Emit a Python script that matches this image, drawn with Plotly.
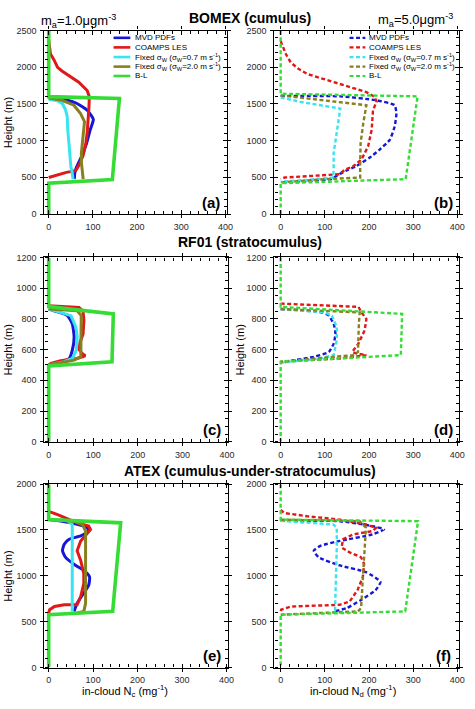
import plotly.graph_objects as go

# ---------------- data (in-cloud number concentration, mg^-1 ; height, m) ----------------
SERIES = ["MVD PDFs", "COAMPS LES", "Fixed σ<sub>W</sub> (σ<sub>W</sub>=0.7 m s<sup>-1</sup>)",
          "Fixed σ<sub>W</sub> (σ<sub>W</sub>=2.0 m s<sup>-1</sup>)", "B-L"]

# (a) BOMEX, m_a = 1.0
A_MVD_N = [0, 40, 63, 87, 101, 94, 85, 74, 63, 59, 58]
A_MVD_Z = [1580, 1555, 1510, 1415, 1290, 1150, 950, 780, 640, 560, 475]
A_LES_N = [0, 2, 4, 12, 20, 30, 45, 68, 87, 92, 91, 90, 87, 84, 78, 68, 61, 40, 15, 0]
A_LES_Z = [2370, 2300, 2180, 2100, 2000, 1950, 1885, 1796, 1684, 1600, 1450, 1326, 1100, 968, 800, 660, 590, 568, 525, 497]
A_F07_N = [0, 20, 31, 38, 42, 43, 46, 48, 50, 53, 55]
A_F07_Z = [1565, 1545, 1505, 1420, 1326, 1150, 950, 789, 650, 565, 475]
A_F20_N = [0, 30, 57, 72, 81, 79, 76, 74, 74, 76, 78]
A_F20_Z = [1580, 1550, 1483, 1371, 1259, 1102, 950, 833, 699, 560, 475]
A_BL_N = [0, 0, 160, 144, 0, 0]
A_BL_Z = [2500, 1600, 1575, 470, 420, 0]

# (b) BOMEX, m_a = 5.0
B_MVD_N = [0, 135, 217, 258, 262, 258, 247, 224, 201, 171, 147, 132, 113, 60, 0]
B_MVD_Z = [1610, 1604, 1550, 1483, 1371, 1192, 1012, 878, 766, 654, 587, 542, 475, 450, 430]
B_LES_N = [0, 12, 23, 41, 60, 97, 149, 194, 213, 217, 209, 206, 198, 183, 165, 147, 132, 61, 9, 0]
B_LES_Z = [2357, 2177, 2065, 1976, 1909, 1841, 1751, 1662, 1595, 1528, 1415, 1147, 923, 743, 654, 609, 542, 520, 497, 475]
B_F07_N = [0, 45, 135, 131, 124, 120, 120, 119, 61, 0]
B_F07_Z = [1590, 1528, 1438, 1281, 1057, 833, 609, 497, 466, 440]
B_F20_N = [0, 98, 194, 187, 181, 180, 180, 98, 0]
B_F20_Z = [1617, 1550, 1483, 1237, 968, 699, 497, 475, 430]
B_BL_N = [0, 0, 310, 283, 0, 0]
B_BL_Z = [2500, 1640, 1604, 475, 420, 0]

# (c) RF01, m_a = 1.0
C_MVD_N = [0, 20, 42, 53, 57, 53, 46, 27, 0]
C_MVD_Z = [864, 845, 821, 767, 681, 596, 542, 521, 500]
C_LES_N = [0, 68, 77, 79, 77, 70, 68, 75, 82, 64, 27, 5, 0]
C_LES_Z = [885, 874, 850, 790, 700, 645, 600, 575, 560, 542, 527, 510, 500]
C_F07_N = [0, 25, 50, 61, 64, 62, 53, 35, 0]
C_F07_Z = [864, 845, 821, 746, 681, 596, 542, 521, 500]
C_F20_N = [0, 64, 73, 73, 73, 72, 57, 20, 0]
C_F20_Z = [864, 853, 821, 746, 574, 553, 531, 510, 500]
C_BL_N = [0, 0, 145, 142, 0, 0]
C_BL_Z = [1200, 880, 832, 521, 493, 0]

# (d) RF01, m_a = 5.0
D_MVD_N = [0, 92, 109, 120, 124, 120, 109, 75, 24, 0]
D_MVD_Z = [864, 842, 821, 767, 703, 639, 585, 553, 527, 514]
D_LES_N = [0, 176, 183, 194, 190, 176, 162, 172, 194, 134, 60, 0]
D_LES_Z = [899, 878, 842, 799, 724, 639, 585, 574, 564, 542, 531, 521]
D_F07_N = [0, 100, 116, 127, 127, 120, 90, 24, 0]
D_F07_Z = [864, 842, 821, 746, 660, 564, 542, 521, 514]
D_F20_N = [0, 179, 177, 175, 175, 164, 75, 0]
D_F20_Z = [864, 842, 767, 660, 585, 564, 542, 521]
D_BL_N = [0, 0, 275, 272, 0, 0]
D_BL_Z = [1200, 878, 832, 564, 521, 0]

# (e) ATEX, m_a = 1.0
E_MVD_N = [0, 50, 87, 90, 72, 46, 35, 31, 38, 61, 79, 92, 90, 76, 64, 57]
E_MVD_Z = [1613, 1578, 1524, 1488, 1435, 1399, 1345, 1274, 1202, 1113, 1059, 987, 898, 791, 701, 612]
E_LES_N = [0, 20, 64, 90, 94, 72, 64, 72, 79, 79, 72, 64, 35, 13, 2, 0]
E_LES_Z = [1703, 1667, 1578, 1542, 1506, 1381, 1274, 1167, 1023, 916, 773, 684, 684, 665, 630, 594]
E_F07_N = [0, 42, 53, 53, 52, 52, 53]
E_F07_Z = [1613, 1603, 1560, 1309, 952, 701, 612]
E_F20_N = [0, 57, 76, 83, 83, 83, 79, 64]
E_F20_Z = [1613, 1596, 1560, 1488, 952, 701, 612, 594]
E_BL_N = [0, 0, 162, 144, 0, 0]
E_BL_Z = [2000, 1613, 1578, 612, 576, 0]

# (f) ATEX, m_a = 5.0
F_MVD_N = [0, 134, 208, 234, 208, 134, 90, 75, 86, 134, 193, 226, 215, 182, 149, 119]
F_MVD_Z = [1600, 1596, 1542, 1506, 1452, 1381, 1327, 1274, 1202, 1113, 1041, 934, 844, 737, 647, 612]
F_LES_N = [0, 8, 60, 134, 193, 216, 208, 164, 141, 138, 156, 182, 189, 186, 174, 156, 134, 23, 1, 0]
F_LES_Z = [1720, 1685, 1650, 1613, 1560, 1524, 1488, 1452, 1399, 1309, 1256, 1202, 1130, 987, 844, 719, 684, 665, 630, 594]
F_F07_N = [0, 119, 127, 127, 125, 123]
F_F07_Z = [1600, 1560, 1524, 1309, 952, 612]
F_F20_N = [0, 179, 193, 190, 186, 182, 175, 97, 0]
F_F20_Z = [1613, 1596, 1524, 1309, 952, 648, 612, 594, 576]
F_BL_N = [0, 0, 311, 282, 0, 0]
F_BL_Z = [2000, 1613, 1596, 612, 576, 0]

PANEL_DATA = {
    "a": [(A_MVD_N, A_MVD_Z), (A_LES_N, A_LES_Z), (A_F07_N, A_F07_Z), (A_F20_N, A_F20_Z), (A_BL_N, A_BL_Z)],
    "b": [(B_MVD_N, B_MVD_Z), (B_LES_N, B_LES_Z), (B_F07_N, B_F07_Z), (B_F20_N, B_F20_Z), (B_BL_N, B_BL_Z)],
    "c": [(C_MVD_N, C_MVD_Z), (C_LES_N, C_LES_Z), (C_F07_N, C_F07_Z), (C_F20_N, C_F20_Z), (C_BL_N, C_BL_Z)],
    "d": [(D_MVD_N, D_MVD_Z), (D_LES_N, D_LES_Z), (D_F07_N, D_F07_Z), (D_F20_N, D_F20_Z), (D_BL_N, D_BL_Z)],
    "e": [(E_MVD_N, E_MVD_Z), (E_LES_N, E_LES_Z), (E_F07_N, E_F07_Z), (E_F20_N, E_F20_Z), (E_BL_N, E_BL_Z)],
    "f": [(F_MVD_N, F_MVD_Z), (F_LES_N, F_LES_Z), (F_F07_N, F_F07_Z), (F_F20_N, F_F20_Z), (F_BL_N, F_BL_Z)],
}

X_TICKS = [0, 100, 200, 300, 400]
TITLES = ["BOMEX (cumulus)", "RF01 (stratocumulus)", "ATEX (cumulus-under-stratocumulus)"]
MASS_LABELS = ["m<sub>a</sub>=1.0μgm<sup>-3</sup>", "m<sub>a</sub>=5.0μgm<sup>-3</sup>"]

# ---------------- styling / layout ----------------
W, H = 475, 709
FONT = "Liberation Sans, Arial, Helvetica, sans-serif"
COLORS = ["#1616d8", "#e01818", "#38e4f0", "#86801f", "#36dc36"]

def fx(p):
    return p / W

def fy(p):
    return 1 - p / H

# panel key, x px [l, r], y px [top, bottom], y max, y major, y minor, x range, dashed
PANELS = [
    ("a", (45, 230), (26, 212), 2500, 500, 100, (-9.7, 403.7), False),
    ("b", (278, 465), (26, 212), 2500, 500, 100, (-14, 404), True),
    ("c", (45, 231), (256, 443), 1200, 200, 50, (-9.6, 402.5), False),
    ("d", (278, 465), (256, 443), 1200, 200, 50, (-14, 404), True),
    ("e", (45, 231), (486, 672), 2000, 500, 100, (-9.6, 403.7), False),
    ("f", (278, 465), (486, 672), 2000, 500, 100, (-14, 404), True),
]

fig = go.Figure()
layout = dict(width=W, height=H, margin=dict(l=0, r=0, t=0, b=0), autosize=False,
              paper_bgcolor="white", plot_bgcolor="white", showlegend=False,
              font=dict(family=FONT, color="black"))
annotations = []
shapes = []

tickfont = dict(family=FONT, size=9, color="#2a2a2a")

for i, (key, (xl, xr), (yt, yb), ymax, ymaj, ymin, xrng, dashed) in enumerate(PANELS):
    n = i + 1
    sx = "" if n == 1 else str(n)
    xa, ya = "x" + sx, "y" + sx
    on = n + 6
    # main axes
    layout["xaxis" + sx] = dict(
        domain=[fx(xl), fx(xr)], range=list(xrng), anchor=ya,
        showline=True, linecolor="black", linewidth=1.3, mirror="allticks",
        ticks="outside", ticklen=3, tickwidth=1.3, tickcolor="black",
        tickmode="array", tickvals=X_TICKS, ticktext=[str(v) for v in X_TICKS],
        minor=dict(ticks="inside", ticklen=3, tickwidth=1, tickcolor="black", dtick=20, tick0=0),
        showgrid=False, zeroline=False, tickfont=tickfont, ticklabelstandoff=1)
    layout["yaxis" + sx] = dict(
        domain=[fy(yb), fy(yt)], range=[0, ymax], anchor=xa,
        showline=True, linecolor="black", linewidth=1.3, mirror="allticks",
        ticks="outside", ticklen=3, tickwidth=1.3, tickcolor="black",
        tickmode="linear", tick0=0, dtick=ymaj,
        minor=dict(ticks="inside", ticklen=3, tickwidth=1, tickcolor="black", dtick=ymin, tick0=0),
        showgrid=False, zeroline=False, tickfont=tickfont, ticklabelstandoff=2)
    # overlay axes: inner half of the major ticks
    layout["xaxis%d" % on] = dict(
        overlaying=xa, range=list(xrng), anchor="y%d" % on, showline=False,
        mirror="allticks", ticks="inside", ticklen=4, tickwidth=1.3, tickcolor="black",
        tickmode="array", tickvals=X_TICKS, showticklabels=False,
        showgrid=False, zeroline=False)
    layout["yaxis%d" % on] = dict(
        overlaying=ya, range=[0, ymax], anchor="x%d" % on, showline=False,
        mirror="allticks", ticks="inside", ticklen=4, tickwidth=1.3, tickcolor="black",
        tickmode="linear", tick0=0, dtick=ymaj, showticklabels=False,
        showgrid=False, zeroline=False)

    for s, (nx, zz) in enumerate(PANEL_DATA[key]):
        if dashed:
            line = dict(color=COLORS[s], width=2.4, dash="4px,2.5px")
        else:
            line = dict(color=COLORS[s], width=3.6 if s == 4 else 3.0)
        if s == 0:
            line["shape"] = "spline"
            line["smoothing"] = 0.5
        fig.add_trace(go.Scatter(x=nx, y=zz, mode="lines", line=line, name=SERIES[s],
                                 xaxis=xa, yaxis=ya, hoverinfo="skip"))

    # panel letter
    annotations.append(dict(text="<b>(%s)</b>" % key, x=fx(xr - 16), y=fy(yb - 12),
                            xref="paper", yref="paper", showarrow=False,
                            xanchor="center", yanchor="middle",
                            font=dict(family=FONT, size=15, color="black")))

# dummy traces so the overlay tick axes exist
for n in range(7, 13):
    fig.add_trace(go.Scatter(x=[], y=[], xaxis="x%d" % n, yaxis="y%d" % n, showlegend=False))

# row titles
for t, py in zip(TITLES, [13, 240, 473]):
    annotations.append(dict(text="<b>%s</b>" % t, x=fx(253), y=fy(py), xref="paper", yref="paper",
                            showarrow=False, xanchor="center", yanchor="middle",
                            font=dict(family=FONT, size=14, color="black")))
annotations.append(dict(text=MASS_LABELS[0], x=fx(40), y=fy(16), xref="paper", yref="paper",
                        showarrow=False, xanchor="left", yanchor="middle",
                        font=dict(family=FONT, size=13, color="black")))
annotations.append(dict(text=MASS_LABELS[1], x=fx(461), y=fy(15), xref="paper", yref="paper",
                        showarrow=False, xanchor="right", yanchor="middle",
                        font=dict(family=FONT, size=13, color="black")))

# axis titles
for px_, py_ in [(8, 119), (8, 349.5), (243, 349.5), (8, 579)]:
    annotations.append(dict(text="Height (m)", x=fx(px_), y=fy(py_), xref="paper", yref="paper",
                            showarrow=False, textangle=-90, xanchor="center", yanchor="middle",
                            font=dict(family=FONT, size=11, color="black")))
annotations.append(dict(text="in-cloud N<sub>c</sub> (mg<sup>-1</sup>)", x=fx(127), y=fy(696),
                        xref="paper", yref="paper", showarrow=False, xanchor="center", yanchor="middle",
                        font=dict(family=FONT, size=11, color="black")))
annotations.append(dict(text="in-cloud N<sub>d</sub> (mg<sup>-1</sup>)", x=fx(358), y=fy(696),
                        xref="paper", yref="paper", showarrow=False, xanchor="center", yanchor="middle",
                        font=dict(family=FONT, size=11, color="black")))

# legends (keys drawn as paper-space lines)
ROWS = [33.3, 43, 52.8, 62.5, 72]
for (l0, l1, tx, dashed) in [(115, 132, 135, False), (354, 370, 372, True)]:
    for s, py in enumerate(ROWS):
        ln = dict(color=COLORS[s], width=2.6 if not dashed else 2.2)
        if dashed:
            ln["dash"] = "4px,2.5px"
        shapes.append(dict(type="line", xref="paper", yref="paper", x0=fx(l0), x1=fx(l1),
                           y0=fy(py), y1=fy(py), line=ln))
        annotations.append(dict(text=SERIES[s], x=fx(tx), y=fy(py), xref="paper", yref="paper",
                                showarrow=False, xanchor="left", yanchor="middle",
                                font=dict(family=FONT, size=8, color="black")))

layout["annotations"] = annotations
layout["shapes"] = shapes
fig.update_layout(**layout)
fig.write_html("out.html")
